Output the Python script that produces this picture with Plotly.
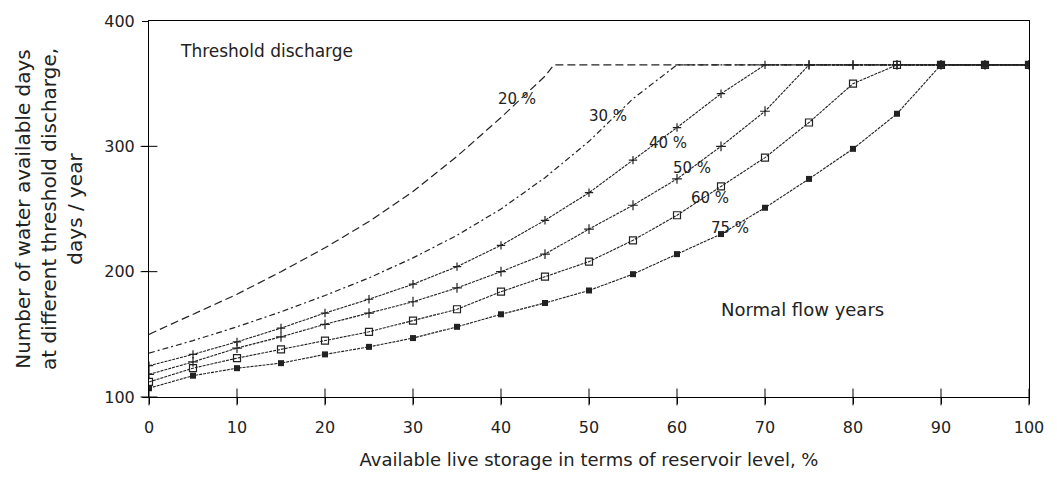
import plotly.graph_objects as go

# ---- data ----
x_20 = [0, 5, 10, 15, 20, 25, 30, 35, 40, 45, 46, 50, 55, 60, 65, 70, 75, 80, 85, 90, 95, 100]
y_20 = [150, 166, 182, 200, 219, 240, 264, 292, 323, 356, 365, 365, 365, 365, 365, 365, 365, 365, 365, 365, 365, 365]

x_30 = [0, 5, 10, 15, 20, 25, 30, 35, 40, 45, 50, 55, 60, 65, 70, 75, 80, 85, 90, 95, 100]
y_30 = [135, 145, 156, 168, 181, 195, 211, 229, 250, 275, 304, 338, 365, 365, 365, 365, 365, 365, 365, 365, 365]

x_40 = [0, 5, 10, 15, 20, 25, 30, 35, 40, 45, 50, 55, 60, 65, 70, 75, 80, 85, 90, 95, 100]
y_40 = [125, 134, 144, 155, 167, 178, 190, 204, 221, 241, 263, 289, 315, 342, 365, 365, 365, 365, 365, 365, 365]

x_50 = [0, 5, 10, 15, 20, 25, 30, 35, 40, 45, 50, 55, 60, 65, 70, 75, 80, 85, 90, 95, 100]
y_50 = [118, 128, 139, 148, 158, 167, 176, 187, 200, 214, 234, 253, 274, 300, 328, 365, 365, 365, 365, 365, 365]

x_60 = [0, 5, 10, 15, 20, 25, 30, 35, 40, 45, 50, 55, 60, 65, 70, 75, 80, 85, 90, 95, 100]
y_60 = [112, 123, 131, 138, 145, 152, 161, 170, 184, 196, 208, 225, 245, 268, 291, 319, 350, 365, 365, 365, 365]

x_75 = [0, 5, 10, 15, 20, 25, 30, 35, 40, 45, 50, 55, 60, 65, 70, 75, 80, 85, 90, 95, 100]
y_75 = [107, 117, 123, 127, 134, 140, 147, 156, 166, 175, 185, 198, 214, 230, 251, 274, 298, 326, 365, 365, 365]

curve_labels = ["20 %", "30 %", "40 %", "50 %", "60 %", "75 %"]
label_x = [41.8, 52.2, 59.0, 61.7, 63.7, 66.0]
label_y = [338, 324, 303, 283, 259, 235]

x_ticks = [0, 10, 20, 30, 40, 50, 60, 70, 80, 90, 100]
y_ticks = [100, 200, 300, 400]

FONT = "DejaVu Sans"
INK = "#222222"

fig = go.Figure()

series = [
    (x_20, y_20, dict(color=INK, width=1.2, dash="8px,4px"), None),
    (x_30, y_30, dict(color=INK, width=1.2, dash="6px,3px,2px,3px"), None),
    (x_40, y_40, dict(color=INK, width=1.1, dash="3px,1px"), dict(symbol="cross-thin", size=6, color=INK, line=dict(color=INK, width=1.2))),
    (x_50, y_50, dict(color=INK, width=1.1, dash="3px,1px"), dict(symbol="cross-thin", size=7, color=INK, line=dict(color=INK, width=1.2))),
    (x_60, y_60, dict(color=INK, width=1.1, dash="3px,1px"), dict(symbol="square-open", size=7, color=INK, line=dict(width=1.2))),
    (x_75, y_75, dict(color=INK, width=1.1, dash="3px,1px"), dict(symbol="square", size=6, color=INK)),
]
for (xs, ys, ln, mk), name in zip(series, curve_labels):
    if mk is None:
        fig.add_trace(go.Scatter(x=xs, y=ys, mode="lines", line=ln, name=name, showlegend=False))
    else:
        fig.add_trace(go.Scatter(x=xs, y=ys, mode="lines+markers", line=ln, marker=mk, name=name, showlegend=False))

# cross-shaped tick marks (the axis draws the outer half, these add the inner half)
y_base = y_ticks[0]
x_base = x_ticks[0]
fig.add_trace(go.Scatter(x=x_ticks, y=[y_base] * len(x_ticks), mode="markers", cliponaxis=False,
                         marker=dict(symbol="line-ns-open", size=12, color="black", line=dict(color="black", width=1)),
                         showlegend=False, hoverinfo="skip"))
fig.add_trace(go.Scatter(x=[x_base] * len(y_ticks[:-1]), y=y_ticks[:-1], mode="markers", cliponaxis=False,
                         marker=dict(symbol="line-ew-open", size=12, color="black", line=dict(color="black", width=1)),
                         showlegend=False, hoverinfo="skip"))

for t, lx, ly in zip(curve_labels, label_x, label_y):
    fig.add_annotation(x=lx, y=ly, text=t, showarrow=False, font=dict(family=FONT, size=15, color=INK))

fig.add_annotation(x=3.3, y=376, text="Threshold discharge", showarrow=False, xanchor="left",
                   font=dict(family=FONT, size=17, color=INK))
fig.add_annotation(x=74.3, y=170, text="Normal flow years", showarrow=False,
                   font=dict(family=FONT, size=18, color=INK))

axis_common = dict(showgrid=False, zeroline=False, linecolor="black", linewidth=1, tickcolor="black")

fig.update_layout(
    width=1057, height=479,
    margin=dict(l=149, r=28, t=19, b=80),
    paper_bgcolor="white", plot_bgcolor="white",
    font=dict(family=FONT, color=INK),
    xaxis=dict(range=[0, 100], tickvals=x_ticks, ticks="outside", ticklen=6, mirror=True, showline=True,
               tickfont=dict(size=16, family=FONT, color=INK), ticklabelstandoff=10,
               title=dict(text="Available live storage in terms of reservoir level, %",
                          font=dict(size=18, family=FONT, color=INK), standoff=17),
               **axis_common),
    yaxis=dict(range=[100, 400], tickvals=y_ticks, ticks="outside", ticklen=6, mirror=True, showline=True,
               tickfont=dict(size=16, family=FONT, color=INK), ticklabelstandoff=4,
               title=dict(text="Number of water available days<br>at different threshold discharge,<br>days / year",
                          font=dict(size=20, family=FONT, color=INK), standoff=16),
               **axis_common),
)

fig.write_html("out.html")
